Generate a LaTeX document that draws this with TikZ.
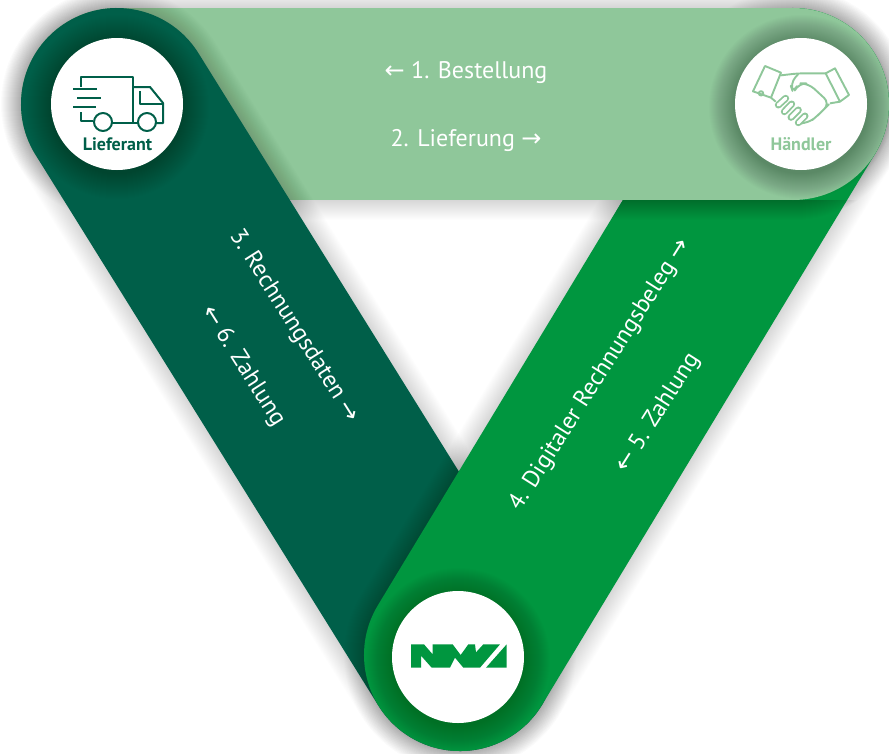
\documentclass[tikz,border=0pt]{standalone}
\usepackage{fontspec}
\setmainfont{PT Sans}
\newfontfamily\arrowfont{DejaVu Sans}
\newcommand{\la}{{\arrowfont\fontsize{24}{24}\selectfont ←}}
\newcommand{\ra}{{\arrowfont\fontsize{24}{24}\selectfont →}}
\definecolor{lightband}{HTML}{8FC79A}
\definecolor{darkband}{HTML}{005F49}
\definecolor{midband}{HTML}{00963F}
\tikzset{
  band/.style={line width=192pt,line cap=round},
  softshadow/.style={line cap=round,draw=black,draw opacity=0.006},
  hub/.style={circle,fill=white,minimum size=132pt,inner sep=0pt},
  lbl/.style={text=white,font=\fontsize{24}{24}\selectfont},
  hublbl/.style={font=\bfseries\fontsize{18}{18}\selectfont},
  icon/.style={line width=2pt,line join=round,fill=none}
}
\begin{document}
\begin{tikzpicture}[x=1pt,y=-1pt]
\useasboundingbox (0,0) rectangle (889,753);
\fill[white] (0,0) rectangle (889,753);
\coordinate (L) at (117,104);
\coordinate (H) at (793,104);
\coordinate (H2) at (500,104);
\coordinate (N) at (460,655);
% light band
\foreach \w in {2,4,...,40}{\draw[softshadow,line width=192pt+\w pt] (L)--(H);}
\draw[band,lightband] (L)--(H);
% dark band
\foreach \w in {2,4,...,40}{\draw[softshadow,line width=192pt+\w pt] (L)--(N);}
\draw[band,darkband] (L)--(N);
% mid band
\foreach \w in {2,4,...,40}{\draw[softshadow,line width=192pt+\w pt] (N)--(H);}
\draw[band,midband] (N)--(H);
% light band again on top of mid band
\begin{scope}
\clip (623,200)--(889,200)--(889,260)--(586,260)--cycle;
\foreach \w in {2,4,...,40}{\draw[softshadow,draw opacity=0.012,line width=192pt+\w pt] (H2)--(H);}
\end{scope}
\draw[line width=192pt,line cap=butt,lightband] (H2)--(H);
\fill[lightband] (H) circle (96pt);
% hub shadows
\foreach \r in {67,68,...,92}{
  \fill[black,fill opacity=0.008] (117,107) circle (\r pt);
  \fill[black,fill opacity=0.012] (801,107) circle (\r pt);
  \fill[black,fill opacity=0.008] (458,660) circle (\r pt);
}
\node[hub] (lief) at (117,104) {};
\node[hub] (haend) at (801,104) {};
\node[hub] (nwa) at (458,657) {};
% truck
\begin{scope}[icon,draw=darkband]
\draw (81,87)--(81,77)--(133,77)--(133,123)--(112,123);
\draw (81,112)--(81,121)--(93,121);
\draw (73,89)--(97,89);
\draw (77,98)--(101,98);
\draw (73,107)--(96,107);
\draw (133,87)--(150,87)--(163,103)--(163,123)--(156,123);
\draw (140,91)--(140,104)--(163,104);
\draw (133,123)--(138,123);
\draw (103,122) circle (9pt);
\draw (147,122) circle (9pt);
\end{scope}
\node[hublbl,text=darkband] (lieflbl) at (117.5,144) {Lieferant};
% handshake
\begin{scope}[shift={(745,60)},x=0.3333pt,y=-0.3333pt,line width=1.9pt,line join=round]
\draw[lightband] (60,18)--(108,38)--(78,113)--(24,94)--cycle;
\draw[lightband] (270,25)--(242,40)--(285,125)--(312,105)--cycle;
\draw[lightband] (48,100) circle (2.2pt);
\draw[lightband,rounded corners=6pt] (108,46)--(160,40)--(242,40);
\draw[lightband,rounded corners=8pt] (160,42)--(135,70)--(145,100)--(160,70)--(190,70)--(255,130)--(235,150)--(220,165)--(190,190)--(172,190);
\draw[lightband] (255,130)--(285,125);
\draw[lightband] (78,113)--(92,125);
\foreach \a/\b/\c/\d in {100/135/122/115,118/155/140/132,138/172/160/150,160/188/180/168}{
  \draw[lightband,line width=7pt,line cap=round] (\a,\b)--(\c,\d);
  \draw[white,line width=3.4pt,line cap=round] (\a,\b)--(\c,\d);
}
\end{scope}
\node[hublbl,text=lightband] (haendlbl) at (801,144) {Händler};
% NWA logo
\begin{scope}[shift={(400,635)},x=0.3333pt,y=-0.3333pt]
\fill[midband] (33,28)--(72,28)--(98,58)--(98,28)--(158,28)--(182,60)--(205,28)--(225,28)--(228,52)--(250,28)--(300,28)--(240,98)--(190,98)--(165,68)--(150,98)--(95,98)--(63,62)--(63,98)--(33,98)--cycle;
\fill[midband] (320,28)--(320,98)--(258,98)--cycle;
\end{scope}
\node[lbl] (t1) at (466,72) {\la\ 1. Bestellung};
\node[lbl] (t2) at (466,140) {2. Lieferung \ra};
\node[lbl,rotate=-57.6] (t3) at (294,326) {3. Rechnungsdaten \ra};
\node[lbl,rotate=-57.6] (t4) at (243,366) {\la\ 6. Zahlung};
\node[lbl,rotate=57.6] (t5) at (600,375) {4. Digitaler Rechnungsbeleg \ra};
\node[lbl,rotate=57.6] (t6) at (658,413) {\la\ 5. Zahlung};
\end{tikzpicture}
\end{document}
